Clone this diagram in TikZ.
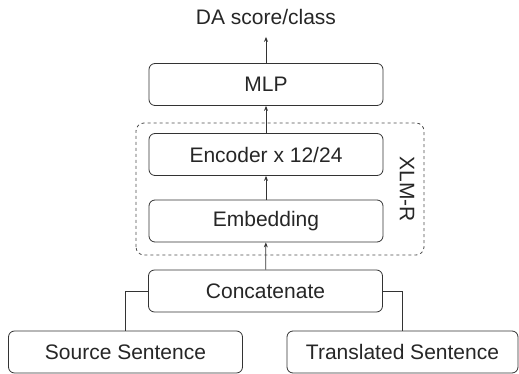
\documentclass[tikz,border=0pt]{standalone}
\usepackage{fontspec}
\setmainfont{Liberation Sans}
\usepackage{xcolor}
\usepackage{tikz}
\usetikzlibrary{positioning, arrows.meta}

\begin{document}
\begin{tikzpicture}[
    x=1pt, y=1pt,
    box/.style={
        draw=black!80,
        line width=0.8pt,
        rounded corners=6pt,
        align=center,
        font=\fontsize{21pt}{25pt}\selectfont,
        text=black!85,
        minimum width=234pt,
        minimum height=42pt
    },
    arrow/.style={-{Stealth[length=5pt,width=4pt]}, line width=0.8pt, draw=black!80},
    link/.style={line width=0.8pt, draw=black!80},
    group/.style={draw=black!70, dashed, line width=0.8pt, rounded corners=8pt},
    tag/.style={font=\fontsize{21pt}{25pt}\selectfont, text=black!85}
]
\useasboundingbox (0,0) rectangle (519,374);

% main column
\node[box] (concat) at (265.5,83) {Concatenate};
\node[box] (embed) at (266,153) {Embedding};
\node[box] (enc) at (266,219.5) {Encoder x 12/24};
\node[box] (mlp) at (266,289.5) {MLP};
\node[tag, inner sep=12pt] (out) at (266,357) {DA score/class};

% inputs
\node[box, minimum width=234pt] (src) at (125.5,22) {Source Sentence};
\node[box, minimum width=231pt] (trans) at (402.5,22) {Translated Sentence};

% encoder block
\draw[group] (136,119) rectangle (424,251);
\node[tag, rotate=-90] (xlmr) at (407,185) {XLM-R};

\draw[link] (concat.west) -| (src.north);
\draw[link] (concat.east) -| (trans.north);
\draw[arrow] (concat) -- (embed);
\draw[arrow] (embed) -- (enc);
\draw[arrow] (enc) -- (mlp);
\draw[arrow] (mlp) -- (out);

\end{tikzpicture}
\end{document}
